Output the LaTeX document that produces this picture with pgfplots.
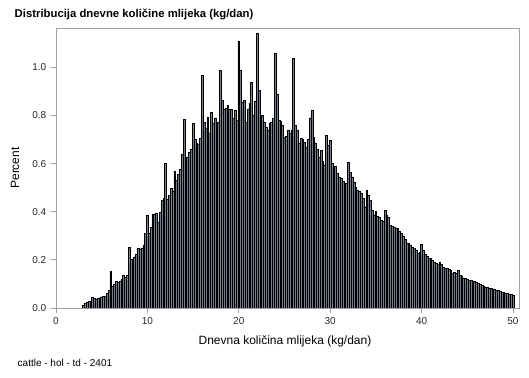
\documentclass[border=0pt]{standalone}
\usepackage{pgfplots}
\pgfplotsset{compat=1.18}
\usepackage{fontspec}
\setmainfont{Liberation Sans}
\definecolor{axgray}{RGB}{160,160,160}
\definecolor{barfill}{RGB}{118,126,140}
\begin{document}
\begin{tikzpicture}[x=1pt,y=1pt]
\path[use as bounding box] (0,0) rectangle (396.75,283.5);
\begin{axis}[
  at={(42pt,52.5pt)}, anchor=south west,
  scale only axis, width=347.25pt, height=210pt,
  xmin=0, xmax=50.66, ymin=0, ymax=1.164,
  ybar, bar width=0.2, bar shift=0pt,
  axis line style={axgray, line width=0.6pt},
  tick style={axgray, line width=0.6pt},
  tick align=outside, major tick length=3.75pt,
  xtick={0,10,20,30,40,50}, ytick={0,0.2,0.4,0.6,0.8,1.0},
  xtick pos=bottom, ytick pos=left,
  /pgf/number format/assume math mode=true,
  yticklabel style={/pgf/number format/.cd, fixed, fixed zerofill, precision=1},
  ticklabel style={font=\fontsize{7.5}{9}\selectfont, text=black!85},
]
\addplot[ybar, bar width=0.2, bar shift=0pt, fill=barfill, draw=black, line width=0.45pt] table[row sep=\\] {
x y\\
3.0 0.012\\ 3.2 0.018\\ 3.4 0.022\\ 3.6 0.029\\ 3.8 0.025\\
4.0 0.046\\ 4.2 0.040\\ 4.4 0.038\\ 4.6 0.039\\ 4.8 0.042\\
5.0 0.046\\ 5.2 0.047\\ 5.4 0.050\\ 5.6 0.062\\ 5.8 0.072\\
6.0 0.154\\ 6.2 0.091\\ 6.4 0.100\\ 6.6 0.112\\ 6.8 0.105\\
7.0 0.113\\ 7.2 0.118\\ 7.4 0.137\\ 7.6 0.127\\ 7.8 0.135\\
8.0 0.252\\ 8.2 0.203\\ 8.4 0.200\\ 8.6 0.212\\ 8.8 0.223\\
9.0 0.248\\ 9.2 0.246\\ 9.4 0.250\\ 9.6 0.262\\ 9.8 0.310\\
10.0 0.386\\ 10.2 0.310\\ 10.4 0.335\\ 10.6 0.390\\ 10.8 0.388\\
11.0 0.395\\ 11.2 0.355\\ 11.4 0.398\\ 11.6 0.448\\ 11.8 0.455\\
12.0 0.600\\ 12.2 0.452\\ 12.4 0.470\\ 12.6 0.498\\ 12.8 0.487\\
13.0 0.570\\ 13.2 0.532\\ 13.4 0.555\\ 13.6 0.575\\ 13.8 0.640\\
14.0 0.785\\ 14.2 0.600\\ 14.4 0.625\\ 14.6 0.648\\ 14.8 0.660\\
15.0 0.766\\ 15.2 0.702\\ 15.4 0.686\\ 15.6 0.680\\ 15.8 0.705\\
16.0 0.967\\ 16.2 0.770\\ 16.4 0.747\\ 16.6 0.794\\ 16.8 0.726\\
17.0 0.815\\ 17.2 0.768\\ 17.4 0.790\\ 17.6 0.745\\ 17.8 0.770\\
18.0 0.988\\ 18.2 0.863\\ 18.4 0.824\\ 18.6 0.830\\ 18.8 0.842\\
19.0 0.828\\ 19.2 0.826\\ 19.4 0.787\\ 19.6 0.820\\ 19.8 0.780\\
20.0 1.108\\ 20.2 0.990\\ 20.4 0.856\\ 20.6 0.863\\ 20.8 0.773\\
21.0 0.828\\ 21.2 0.852\\ 21.4 0.939\\ 21.6 0.800\\ 21.8 0.860\\
22.0 1.144\\ 22.2 0.905\\ 22.4 0.794\\ 22.6 0.800\\ 22.8 0.773\\
23.0 0.752\\ 23.2 0.739\\ 23.4 0.768\\ 23.6 0.773\\ 23.8 0.790\\
24.0 1.057\\ 24.2 0.890\\ 24.4 0.780\\ 24.6 0.775\\ 24.8 0.760\\
25.0 0.710\\ 25.2 0.712\\ 25.4 0.740\\ 25.6 0.726\\ 25.8 0.740\\
26.0 1.036\\ 26.2 0.760\\ 26.4 0.740\\ 26.6 0.685\\ 26.8 0.705\\
27.0 0.700\\ 27.2 0.690\\ 27.4 0.670\\ 27.6 0.700\\ 27.8 0.790\\
28.0 0.820\\ 28.2 0.710\\ 28.4 0.685\\ 28.6 0.660\\ 28.8 0.628\\
29.0 0.656\\ 29.2 0.610\\ 29.4 0.593\\ 29.6 0.718\\ 29.8 0.676\\
30.0 0.697\\ 30.2 0.600\\ 30.4 0.580\\ 30.6 0.590\\ 30.8 0.560\\
31.0 0.545\\ 31.2 0.540\\ 31.4 0.525\\ 31.6 0.503\\ 31.8 0.520\\
32.0 0.607\\ 32.2 0.566\\ 32.4 0.545\\ 32.6 0.524\\ 32.8 0.500\\
33.0 0.490\\ 33.2 0.486\\ 33.4 0.476\\ 33.6 0.455\\ 33.8 0.420\\
34.0 0.490\\ 34.2 0.470\\ 34.4 0.448\\ 34.6 0.407\\ 34.8 0.386\\
35.0 0.400\\ 35.2 0.380\\ 35.4 0.379\\ 35.6 0.365\\ 35.8 0.360\\
36.0 0.407\\ 36.2 0.386\\ 36.4 0.375\\ 36.6 0.344\\ 36.8 0.340\\
37.0 0.335\\ 37.2 0.330\\ 37.4 0.330\\ 37.6 0.320\\ 37.8 0.310\\
38.0 0.300\\ 38.2 0.285\\ 38.4 0.271\\ 38.6 0.270\\ 38.8 0.262\\
39.0 0.254\\ 39.2 0.250\\ 39.4 0.240\\ 39.6 0.227\\ 39.8 0.230\\
40.0 0.266\\ 40.2 0.240\\ 40.4 0.225\\ 40.6 0.215\\ 40.8 0.206\\
41.0 0.205\\ 41.2 0.200\\ 41.4 0.192\\ 41.6 0.185\\ 41.8 0.182\\
42.0 0.190\\ 42.2 0.180\\ 42.4 0.168\\ 42.6 0.165\\ 42.8 0.164\\
43.0 0.160\\ 43.2 0.155\\ 43.4 0.144\\ 43.6 0.148\\ 43.8 0.145\\
44.0 0.158\\ 44.2 0.137\\ 44.4 0.130\\ 44.6 0.125\\ 44.8 0.123\\
45.0 0.120\\ 45.2 0.116\\ 45.4 0.115\\ 45.6 0.112\\ 45.8 0.110\\
46.0 0.108\\ 46.2 0.102\\ 46.4 0.100\\ 46.6 0.095\\ 46.8 0.091\\
47.0 0.086\\ 47.2 0.085\\ 47.4 0.082\\ 47.6 0.081\\ 47.8 0.078\\
48.0 0.077\\ 48.2 0.074\\ 48.4 0.072\\ 48.6 0.068\\ 48.8 0.065\\
49.0 0.064\\ 49.2 0.062\\ 49.4 0.060\\ 49.6 0.058\\ 49.8 0.056\\
50.0 0.053\\
};
\end{axis}
\node[anchor=west, font=\fontsize{8.5}{10}\selectfont\bfseries] at (7.5,273) {Distribucija dnevne količine mlijeka (kg/dan)};
\node[font=\fontsize{9}{11}\selectfont] at (213.75,27.75) {Dnevna količina mlijeka (kg/dan)};
\node[rotate=90, font=\fontsize{9}{11}\selectfont] at (11.25,157.5) {Percent};
\node[anchor=west, font=\fontsize{7.5}{9}\selectfont] at (9.75,11.25) {cattle - hol - td - 2401};
\end{tikzpicture}
\end{document}
